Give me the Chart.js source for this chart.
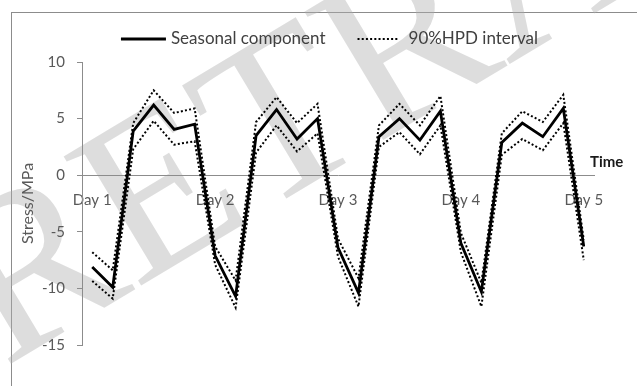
<!DOCTYPE html>
<html><head><meta charset="utf-8">
<script src="https://cdn.jsdelivr.net/npm/chart.js@4"></script>
<style>html,body{margin:0;padding:0;background:#fff}</style>
</head><body>
<canvas id="c" width="637" height="386"></canvas>
<script>
// ---- data ----
const categories = [
  'Day 1','','','','','',
  'Day 2','','','','','',
  'Day 3','','','','','',
  'Day 4','','','','','',
  'Day 5'
];
const seasonal = [-8.1, -9.9, 3.9, 6.2, 4.05, 4.5, -7.1, -10.7, 3.5, 5.8, 3.2, 5.0, -6.4, -10.4, 3.4, 5.0, 3.1, 5.65, -6.0, -10.3, 2.9, 4.6, 3.4, 5.9, -6.3];
const hpdUpper = [-6.8, -8.4, 4.6, 7.5, 5.5, 5.9, -6.3, -9.3, 4.7, 6.9, 4.6, 6.3, -5.6, -9.1, 4.4, 6.3, 4.4, 7.0, -5.1, -9.5, 3.7, 5.65, 4.7, 7.1, -5.7];
const hpdLower = [-9.35, -10.9, 2.3, 4.8, 2.7, 3.0, -7.9, -11.7, 2.0, 4.4, 2.1, 3.7, -7.2, -11.6, 2.5, 3.8, 1.85, 4.4, -6.8, -11.6, 1.8, 3.2, 2.2, 4.6, -7.5];
const yTicks = [-15, -10, -5, 0, 5, 10];
const seriesNames = ['Seasonal component', '90%HPD interval'];
const axisTitleY = 'Stress/MPa';
const axisTitleX = 'Time';
const watermark = 'RETRACTED';

const FONT = 'Lato';
const GRAY = '#8c8c8c';

const framePlugin = {
  id: 'frame',
  beforeDraw(chart) {
    const c = chart.ctx;
    c.save();
    c.fillStyle = '#fff';
    c.fillRect(0, 0, chart.width, chart.height);
    c.strokeStyle = GRAY;
    c.lineWidth = 1;
    c.strokeRect(11.5, 12.5, 700, 500);
    // watermark
    c.translate(4, 368);
    c.rotate(-31 * Math.PI / 180);
    c.font = '230px "Liberation Serif"';
    c.fillStyle = 'rgba(175,175,175,0.42)';
    c.textBaseline = 'alphabetic';
    c.fillText(watermark, 0, 0);
    c.restore();
  },
  afterDraw(chart) {
    const c = chart.ctx;
    c.save();
    // legend
    c.font = '17px ' + FONT;
    c.textBaseline = 'middle';
    c.fillStyle = '#404040';
    const tw1 = c.measureText(seriesNames[0]).width;
    const tw2 = c.measureText(seriesNames[1]).width;
    const total = 45 + 5 + tw1 + 32 + 41 + 10 + tw2;
    let x = 329.5 - total / 2;
    const ly = 39;
    const ds0 = chart.data.datasets[0], ds1 = chart.data.datasets[1];
    c.strokeStyle = ds0.borderColor; c.lineWidth = ds0.borderWidth; c.setLineDash([]);
    c.beginPath(); c.moveTo(x, ly); c.lineTo(x + 45, ly); c.stroke();
    x += 50;
    c.fillText(seriesNames[0], x, ly);
    x += tw1 + 32;
    c.strokeStyle = ds1.borderColor; c.lineWidth = ds1.borderWidth; c.setLineDash(ds1.borderDash);
    c.beginPath(); c.moveTo(x, ly); c.lineTo(x + 41, ly); c.stroke();
    c.setLineDash([]);
    x += 51;
    c.fillText(seriesNames[1], x, ly);
    // x-axis title
    c.font = 'bold 15px ' + FONT;
    c.fillStyle = '#1a1a1a';
    c.textBaseline = 'middle';
    c.fillText(axisTitleX, 590, 162);
    c.restore();
  }
};

new Chart(document.getElementById('c'), {
  type: 'line',
  data: {
    labels: categories,
    datasets: [
      { label: seriesNames[0], data: seasonal, borderColor: '#000', borderWidth: 2.8, pointRadius: 0, tension: 0, fill: false },
      { label: seriesNames[1], data: hpdUpper, borderColor: '#000', borderWidth: 2, borderDash: [2, 2.2], pointRadius: 0, tension: 0, fill: false },
      { label: seriesNames[1], data: hpdLower, borderColor: '#000', borderWidth: 2, borderDash: [2, 2.2], pointRadius: 0, tension: 0, fill: false }
    ]
  },
  options: {
    responsive: false,
    animation: false,
    devicePixelRatio: 1,
    layout: { padding: { top: 62, right: 43, bottom: 41, left: 0 } },
    plugins: { legend: { display: false }, tooltip: { enabled: false } },
    scales: {
      x: {
        type: 'category',
        offset: true,
        position: { y: 0 },
        grid: { display: false },
        border: { display: true, color: GRAY, width: 1 },
        ticks: { autoSkip: false, maxRotation: 0, minRotation: 0, color: '#595959', font: { family: FONT, size: 15 }, padding: 8 }
      },
      y: {
        min: yTicks[0],
        max: yTicks[yTicks.length - 1],
        afterBuildTicks(s) { s.ticks = yTicks.map(v => ({ value: v })); },
        ticks: { color: '#595959', font: { family: FONT, size: 15 }, padding: 12 },
        grid: { display: true, drawOnChartArea: false, drawTicks: true, tickLength: 5, color: GRAY },
        border: { display: true, color: GRAY, width: 1 },
        title: { display: true, text: axisTitleY, color: '#595959', font: { family: FONT, size: 16 }, padding: { top: 18, bottom: 0 } },
        afterFit(s) { s.width = 82; }
      }
    }
  },
  plugins: [framePlugin]
});
</script>
</body></html>
